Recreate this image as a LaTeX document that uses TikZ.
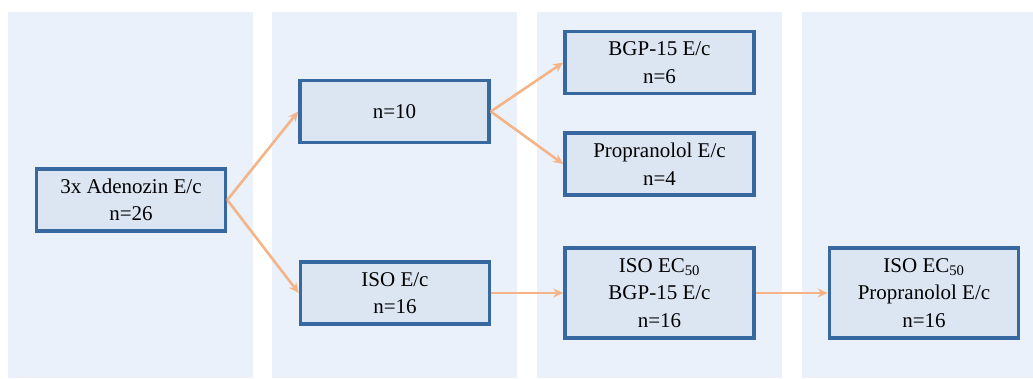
\documentclass[tikz,border=0pt]{standalone}
\usepackage{fontspec}
\setmainfont{Liberation Serif}
\usetikzlibrary{arrows.meta}
\definecolor{panelbg}{RGB}{234,241,250}
\definecolor{boxfill}{RGB}{220,230,242}
\definecolor{boxline}{RGB}{55,105,160}
\definecolor{arrowc}{RGB}{244,180,135}
\tikzset{
  panel/.style={fill=panelbg, draw=none},
  stepbox/.style={draw=boxline, line width=3.6pt, fill=boxfill, minimum width=189pt,
    minimum height=62pt, inner sep=0pt, align=center,
    font=\fontsize{21}{27.5}\selectfont},
  tallbox/.style={stepbox, minimum height=90pt},
  conn/.style={draw=arrowc, line width=2.6pt, -{Stealth[length=10pt,width=9pt]}}
}
\begin{document}
\begin{tikzpicture}[x=1pt,y=-1pt]
\useasboundingbox (0,0) rectangle (1033,378);
\fill[white] (0,0) rectangle (1033,378);
\fill[panel] (8,12) rectangle (253,378);
\fill[panel] (272,12) rectangle (517,378);
\fill[panel] (537,12) rectangle (782,378);
\fill[panel] (802,12) rectangle (1033,378);

\node[stepbox] (ade) at (131,200) {3x Adenozin E/c\\n=26};
\node[stepbox] (n10) at (394.5,111.5) {n=10};
\node[stepbox] (iso) at (395,293) {ISO E/c\\n=16};
\node[stepbox] (bgp) at (659.5,62.5) {BGP-15 E/c\\n=6};
\node[stepbox] (prop) at (659.5,164) {Propranolol E/c\\n=4};
\node[tallbox] (isob) at (659.5,293) {ISO EC\textsubscript{50}\\BGP-15 E/c\\n=16};
\node[tallbox] (isop) at (924,293) {ISO EC\textsubscript{50}\\Propranolol E/c\\n=16};

\draw[conn] (ade.east) -- (n10.west);
\draw[conn] (ade.east) -- (iso.west);
\draw[conn] (n10.east) -- (bgp.west);
\draw[conn] (n10.east) -- (prop.west);
\draw[conn] (iso.east) -- (isob.west);
\draw[conn] (isob.east) -- (isop.west);
\end{tikzpicture}
\end{document}
